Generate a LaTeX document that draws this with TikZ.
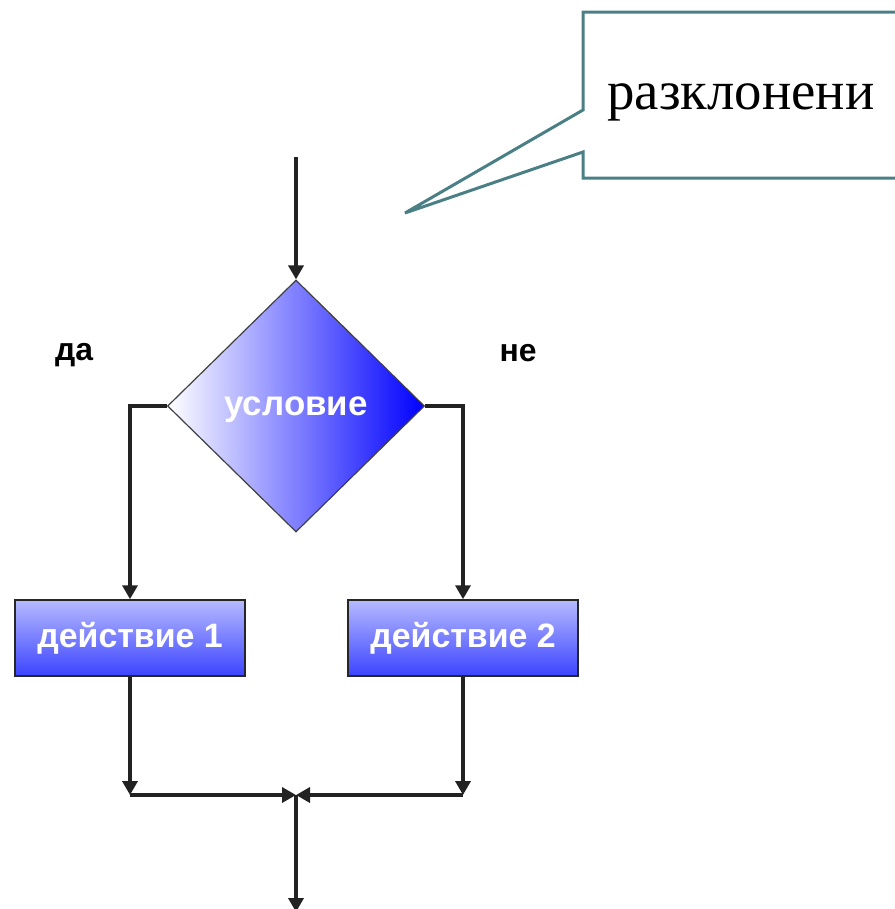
\documentclass[tikz,border=0pt]{standalone}
\usepackage{fontspec}
\setmainfont{Liberation Serif}
\newfontfamily\flowfont{Liberation Sans}
\usetikzlibrary{shapes.geometric,arrows.meta}

\definecolor{calloutline}{HTML}{4A7F86}
\definecolor{flowline}{HTML}{222222}
\definecolor{boxtop}{HTML}{B6BAFF}
\definecolor{boxbottom}{HTML}{3C44FF}

\tikzset{
  flow/.style={draw=flowline, line width=3.8bp, -{Triangle[length=14bp,width=15bp]}},
  decision/.style={diamond, draw=black!75, line width=1.2bp, left color=white,
    right color=blue, minimum width=257bp, minimum height=252bp, inner sep=0pt,
    text depth=0pt, text=white, font=\flowfont\bfseries\fontsize{35}{38}\selectfont},
  action/.style={rectangle, draw=black!85, line width=1.5bp, top color=boxtop,
    bottom color=boxbottom, minimum width=230bp, minimum height=76bp,
    text=white, font=\flowfont\bfseries\fontsize{34}{36}\selectfont},
  answer/.style={font=\flowfont\bfseries\fontsize{32}{34}\selectfont}
}

\begin{document}
\begin{tikzpicture}[x=1bp,y=-1bp]
  \useasboundingbox (0,0) rectangle (895,909);
  \clip (0,0) rectangle (895,909);

  % callout with the pointer on its left side
  \draw[calloutline, line width=3bp, line join=miter]
    (910,12) -- (583,12) -- (583,110) -- (405,213) -- (583,152) -- (583,178) -- (910,178);
  \node[font=\fontsize{55}{60}\selectfont] (tag) at (741,102) {разклонени};

  % decision and the two branches
  \coordinate (start) at (296,157);
  \node[decision] (cond) at (296,406) {условие};
  \node[action] (act1) at (130,638) {действие 1};
  \node[action] (act2) at (463,638) {действие 2};
  \node[answer] (yes) at (74,355) {да};
  \node[answer] (no) at (518,353) {не};

  \coordinate (joinl) at (130,795);
  \coordinate (joinm) at (296,795);
  \coordinate (joinr) at (463,795);
  \coordinate (stop) at (296,912);

  \draw[flow] (start) -- (cond.north);
  \draw[flow] (cond.west) -| (act1.north);
  \draw[flow] (cond.east) -| (act2.north);
  \draw[flow] (act1.south) -- (joinl);
  \draw[flow] (act2.south) -- (joinr);
  \draw[flow] (joinl) -- (joinm);
  \draw[flow] (joinr) -- (joinm);
  \draw[flow] (joinm) -- (stop);
\end{tikzpicture}
\end{document}
